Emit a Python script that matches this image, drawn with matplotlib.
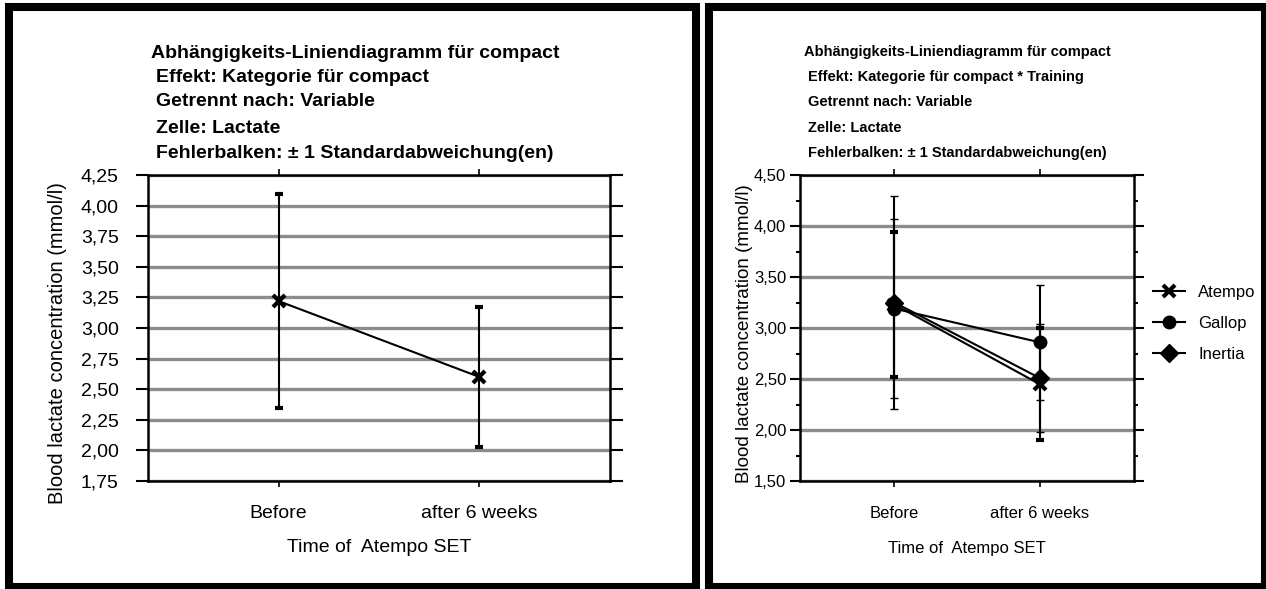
import matplotlib
matplotlib.use("Agg")
import matplotlib.pyplot as plt
from matplotlib.patches import Rectangle
from matplotlib.ticker import FixedLocator, FixedFormatter
import numpy as np

# data
categories = ["Before", "after 6 weeks"]

left_mean = [3.22, 2.60]
left_sd = [0.875, 0.575]

series = ["Atempo", "Gallop", "Inertia"]
right_mean = {"Atempo": [3.23, 2.45], "Gallop": [3.19, 2.86], "Inertia": [3.25, 2.51]}
right_sd = {"Atempo": [0.71, 0.55], "Gallop": [0.875, 0.565], "Inertia": [1.045, 0.525]}
right_marker = {"Atempo": "x", "Gallop": "o", "Inertia": "D"}

left_title = ["Abhängigkeits-Liniendiagramm für compact",
              "Effekt: Kategorie für compact",
              "Getrennt nach: Variable",
              "Zelle: Lactate",
              "Fehlerbalken: ± 1 Standardabweichung(en)"]
right_title = ["Abhängigkeits-Liniendiagramm für compact",
               "Effekt: Kategorie für compact * Training",
               "Getrennt nach: Variable",
               "Zelle: Lactate",
               "Fehlerbalken: ± 1 Standardabweichung(en)"]

W, H = 1266, 589
plt.rcParams["font.family"] = ["Liberation Sans", "DejaVu Sans"]

fig = plt.figure(figsize=(W / 100, H / 100), dpi=100)


def px_axes(x0, y0, x1, y1):
    return fig.add_axes([x0 / W, 1 - y1 / H, (x1 - x0) / W, (y1 - y0) / H])


def fmt(v):
    return f"{v:.2f}".replace(".", ",")


# outer frames
for x0, x1 in [(9, 696), (709, 1265)]:
    fig.add_artist(Rectangle((x0 / W, 1 - 587 / H), (x1 - x0) / W, (587 - 7) / H,
                             transform=fig.transFigure, fill=False, ec="black", lw=5.8))

x = np.arange(1, len(categories) + 1)
grey = "#8c8c8c"

# ---------- left chart ----------
ax = px_axes(148, 175, 610, 481)
ax.set_xlim(0.35, 2.65)
ax.set_ylim(1.75, 4.25)
yt = np.arange(1.75, 4.26, 0.25)
for v in yt:
    ax.axhline(v, color=grey, lw=2.4, zorder=0)
ax.errorbar(x, left_mean, yerr=left_sd, color="black", lw=1.5, capsize=3, capthick=1.2,
            marker="x", ms=9, mew=3, zorder=3)
ax.yaxis.set_major_locator(FixedLocator(yt))
ax.yaxis.set_major_formatter(FixedFormatter([fmt(v) for v in yt]))
ax.set_xticks(x, categories)
ax.tick_params(axis="y", which="major", direction="out", length=9, width=1.5,
               labelsize=14, pad=12, right=True)
ax.tick_params(axis="x", direction="out", length=4, width=1.2, labelsize=14, pad=13, top=True)
for s in ax.spines.values():
    s.set_linewidth(1.8)
ax.set_xlabel("Time of  Atempo SET", fontsize=14)
ax.xaxis.set_label_coords(0.5, -0.19)
ax.set_ylabel("Blood lactate concentration (mmol/l)", fontsize=14.5)
ax.yaxis.set_label_coords(-0.175, 0.45)
for i, t in enumerate(left_title):
    fig.text((151 if i == 0 else 156) / W, 1 - [53, 77, 102, 128, 153][i] / H, t,
             fontsize=14, fontweight="bold", va="center", ha="left")

# ---------- right chart ----------
ax2 = px_axes(800, 175, 1134, 481)
ax2.set_xlim(0.35, 2.65)
ax2.set_ylim(1.5, 4.5)
yt2 = np.arange(1.5, 4.51, 0.5)
for v in yt2:
    ax2.axhline(v, color=grey, lw=2.4, zorder=0)
for name in series:
    ax2.errorbar(x, right_mean[name], yerr=right_sd[name], color="black", lw=1.5,
                 capsize=3, capthick=1.2, marker=right_marker[name],
                 ms=9, mew=3 if name == "Atempo" else 1,
                 label=name, zorder=3)
ax2.yaxis.set_major_locator(FixedLocator(yt2))
ax2.yaxis.set_major_formatter(FixedFormatter([fmt(v) for v in yt2]))
ax2.yaxis.set_minor_locator(FixedLocator(np.arange(1.75, 4.5, 0.5)))
ax2.set_xticks(x, categories)
ax2.tick_params(axis="y", which="major", direction="out", length=7, width=1.5,
                labelsize=12, pad=3, right=True)
ax2.tick_params(axis="y", which="minor", direction="out", length=3, width=1.5, right=True)
ax2.tick_params(axis="x", direction="out", length=4, width=1.2, labelsize=12, pad=14, top=True)
for s in ax2.spines.values():
    s.set_linewidth(1.8)
ax2.set_xlabel("Time of  Atempo SET", fontsize=12)
ax2.xaxis.set_label_coords(0.5, -0.195)
ax2.set_ylabel("Blood lactate concentration (mmol/l)", fontsize=13.5)
ax2.yaxis.set_label_coords(-0.14, 0.48)
for i, t in enumerate(right_title):
    fig.text((804 if i == 0 else 808) / W, 1 - [52, 77, 102, 128, 153][i] / H, t,
             fontsize=10.5, fontweight="bold", va="center", ha="left")

handles, labels = ax2.get_legend_handles_labels()
handles = [h[0] for h in handles]
fig.legend(handles, labels, loc="upper left", bbox_to_anchor=(1153 / W, 1 - 285 / H),
           bbox_transform=fig.transFigure, frameon=False, borderpad=0, borderaxespad=0,
           handlelength=1.9, handletextpad=0.8, labelspacing=0.95,
           prop={"size": 12})

fig.savefig("out.png", dpi=100)
